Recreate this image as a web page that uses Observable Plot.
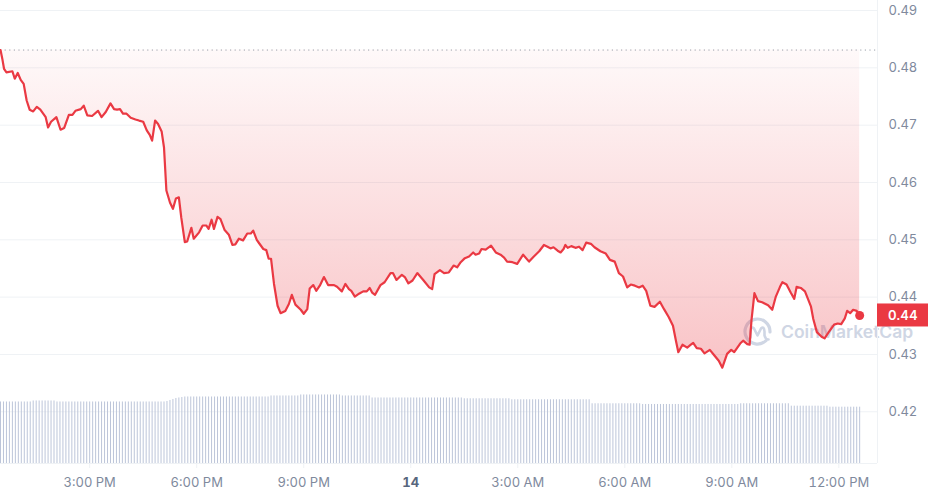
<!DOCTYPE html>
<html><head><meta charset="utf-8">
<script src="https://cdn.jsdelivr.net/npm/d3@7"></script>
<script src="https://cdn.jsdelivr.net/npm/@observablehq/plot@0.6"></script>
<style>
html,body{margin:0;padding:0;background:#fff;}
#wrap{position:relative;width:928px;height:495px;font-family:Inter,sans-serif;overflow:hidden;}
#wm{position:absolute;left:742px;top:316px;display:flex;align-items:center;gap:8px;color:#cfd6e4;font-size:17.5px;font-weight:600;z-index:0;white-space:nowrap;}
#chart{position:absolute;left:0;top:0;z-index:1;}
</style></head><body>
<div id="wrap">
  <div id="wm"><svg width="31" height="31" viewBox="-15.5 -15.5 31 31"><path d="M 8.5 9.2 A 12.5 12.5 0 1 1 12.5 0.5" fill="none" stroke="#cfd6e4" stroke-width="3.2" stroke-linecap="round"/><path d="M -7 6 L -7 0 Q -6.5 -6 -3.5 -3 L 0 4 L 3.5 -3 Q 6.5 -6 7 0 L 7 4 Q 8 8 11 8" fill="none" stroke="#cfd6e4" stroke-width="2.6" stroke-linecap="round" stroke-linejoin="round"/></svg><span>CoinMarketCap</span></div>
  <div id="chart"></div>
</div>
<script>
// Price series: minutes after 12:30 PM (13th) and price in USD
const minutes = [
  0,3,6,10,20,24,29,34,39,44,
  49,55,61,67,76,80,85,94,101,107,
  115,121,126,135,140,146,154,164,170,177,
  185,191,196,201,206,212,219,227,233,240,
  246,251,255,260,265,271,275,279,285,290,
  295,300,304,310,314,321,325,334,340,346,
  350,355,359,365,370,377,384,390,395,401,
  408,415,421,425,431,435,442,447,451,455,
  460,466,471,479,485,490,496,505,510,516,
  520,526,531,537,544,551,561,566,574,580,
  586,590,596,603,610,616,621,625,630,639,
  646,656,660,666,675,680,686,693,701,711,
  721,726,730,739,746,754,762,768,774,781,
  788,795,799,805,809,816,825,833,841,847,
  852,861,869,879,889,897,906,914,920,925,
  930,937,942,947,950,954,960,967,973,979,
  985,993,999,1009,1018,1025,1033,1040,1047,1054,
  1060,1067,1074,1080,1086,1093,1100,1109,1116,1124,
  1131,1136,1140,1147,1155,1161,1165,1171,1178,1184,
  1193,1200,1208,1214,1222,1229,1234,1244,1249,1256,
  1260,1263,1268,1274,1281,1291,1298,1304,1311,1315,
  1322,1329,1335,1339,1346,1353,1358,1363,1367,1373,
  1381,1386,1393,1402,1408,1414,1420,1424,1429,1434,
  1440,1445
];
const prices = [
  0.4831,0.4816,0.4798,0.4792,0.4794,0.4781,0.4791,0.4779,0.4772,0.4743,
  0.4727,0.4724,0.4732,0.4727,0.4714,0.4696,0.4706,0.4714,0.4692,0.4695,
  0.4718,0.4718,0.4725,0.4728,0.4734,0.4717,0.4716,0.4725,0.4714,0.4723,
  0.4738,0.4728,0.4727,0.4728,0.4720,0.4720,0.4713,0.4710,0.4708,0.4706,
  0.4691,0.4683,0.4673,0.4708,0.4702,0.4689,0.4661,0.4586,0.4565,0.4554,
  0.4572,0.4574,0.4539,0.4496,0.4497,0.4521,0.4502,0.4513,0.4525,0.4525,
  0.4519,0.4535,0.4519,0.4540,0.4536,0.4517,0.4509,0.4491,0.4492,0.4502,
  0.4499,0.4511,0.4511,0.4516,0.4500,0.4494,0.4484,0.4482,0.4467,0.4467,
  0.4423,0.4385,0.4372,0.4376,0.4388,0.4404,0.4387,0.4378,0.4371,0.4379,
  0.4415,0.4421,0.4411,0.4420,0.4435,0.4421,0.4421,0.4418,0.4410,0.4423,
  0.4414,0.4411,0.4401,0.4406,0.4410,0.4410,0.4416,0.4408,0.4404,0.4421,
  0.4426,0.4442,0.4442,0.4430,0.4439,0.4435,0.4424,0.4429,0.4442,0.4430,
  0.4417,0.4414,0.4440,0.4447,0.4442,0.4443,0.4455,0.4452,0.4461,0.4468,
  0.4471,0.4478,0.4474,0.4476,0.4484,0.4483,0.4490,0.4478,0.4474,0.4469,
  0.4462,0.4461,0.4458,0.4474,0.4462,0.4471,0.4480,0.4491,0.4488,0.4485,
  0.4487,0.4481,0.4478,0.4484,0.4491,0.4486,0.4489,0.4486,0.4488,0.4482,
  0.4495,0.4493,0.4487,0.4480,0.4476,0.4465,0.4462,0.4442,0.4436,0.4417,
  0.4422,0.4420,0.4417,0.4420,0.4411,0.4385,0.4383,0.4392,0.4379,0.4365,
  0.4350,0.4324,0.4304,0.4317,0.4312,0.4317,0.4320,0.4311,0.4310,0.4302,
  0.4308,0.4299,0.4289,0.4277,0.4301,0.4308,0.4304,0.4319,0.4324,0.4318,
  0.4317,0.4359,0.4407,0.4393,0.4391,0.4386,0.4378,0.4401,0.4418,0.4426,
  0.4422,0.4408,0.4397,0.4418,0.4416,0.4410,0.4397,0.4384,0.4362,0.4339,
  0.4331,0.4328,0.4339,0.4352,0.4354,0.4353,0.4363,0.4376,0.4372,0.4378,
  0.4376,0.4368
];
// Volume bars, one every 5 minutes (relative volume)
const volInterval = 5;
const volumes = [
  61.5,61.5,61.5,61.5,61.5,61.5,61.5,61.5,61.5,61.5,61.5,
  62.5,62.5,62.5,62.5,62.5,62.5,62.5,62.5,
  61.5,61.5,61.5,61.5,61.5,61.5,61.5,61.5,61.5,61.5,
  61.5,61.5,61.5,61.5,61.5,61.5,61.5,61.5,61.5,61.5,
  61.5,61.5,61.5,61.5,61.5,61.5,61.5,61.5,61.5,61.5,
  61.5,61.5,61.5,61.5,61.5,61.5,61.5,
  62,63,64,65,65.5,66,66.5,
  66.5,66.5,66.5,66.5,66.5,66.5,66.5,66.5,66.5,66.5,
  66.5,66.5,66.5,66.5,66.5,66.5,66.5,66.5,66.5,66.5,
  66.5,66.5,66.5,66.5,66.5,66.5,66.5,66.5,
  67.5,67.5,67.5,67.5,67.5,67.5,67.5,67.5,67.5,67.5,
  68.5,68.5,68.5,68.5,68.5,68.5,68.5,68.5,68.5,68.5,68.5,68.5,68.5,68.5,
  67.5,67.5,67.5,67.5,67.5,67.5,67.5,67.5,67.5,67.5,
  65.5,65.5,65.5,65.5,65.5,65.5,65.5,65.5,65.5,65.5,
  65.5,65.5,65.5,65.5,65.5,65.5,65.5,65.5,65.5,65.5,
  65.5,65.5,65.5,65.5,65.5,65.5,65.5,65.5,65.5,65.5,65.5,
  64.7,64.7,64.7,64.7,64.7,64.7,64.7,64.7,64.7,64.7,64.7,64.7,64.7,64.7,64.7,64.7,
  63.7,63.7,63.7,63.7,63.7,63.7,63.7,63.7,63.7,63.7,
  63.7,63.7,63.7,63.7,63.7,63.7,63.7,63.7,63.7,63.7,
  63.7,63.7,63.7,63.7,63.7,63.7,63.7,
  59.7,59.7,59.7,59.7,59.7,59.7,59.7,59.7,59.7,59.7,
  59.7,59.7,59.7,59.7,59.7,59.7,59.7,
  59,59,59,59,59,59,59,59,59,59,
  59,59,59,59,59,59,59,59,59,59,
  59,59,59,59,59,59,59,59,59,59,
  59,59,59,
  59.7,59.7,59.7,59.7,59.7,59.7,59.7,59.7,59.7,59.7,
  59.7,59.7,59.7,59.7,59.7,59.7,59.7,
  57.3,57.3,57.3,57.3,57.3,57.3,57.3,57.3,57.3,57.3,57.3,57.3,57.3,
  56.3,56.3,56.3,56.3,56.3,56.3,56.3,56.3,56.3,56.3,56.3
];
const xTickMinutes = [150, 330, 510, 690, 870, 1050, 1230, 1410];
const xTickLabels = ["3:00 PM","6:00 PM","9:00 PM","14","3:00 AM","6:00 AM","9:00 AM","12:00 PM"];
const yTickValues = [0.42, 0.43, 0.44, 0.45, 0.46, 0.47, 0.48, 0.49];

if (minutes.length !== prices.length) throw new Error("length mismatch " + minutes.length + " vs " + prices.length);

const W = 928, H = 495, mR = 51, mB = 32;
const xDomain = [0, 1475];
const yDomain = [0.41098, 0.491745];
const volToPrice = 0.01 / 57.3;
const red = "#ea3943";
const grid = "#eff2f5";

const data = minutes.map((m, i) => ({m, p: prices[i]}));
const vols = volumes.map((v, i) => ({m: i * volInterval, top: yDomain[0] + v * volToPrice}));
const baseline = prices[0];
const last = data[data.length - 1];

const plot = Plot.plot({
  width: W, height: H,
  marginTop: 0, marginBottom: mB, marginLeft: 0, marginRight: mR,
  style: {background: "transparent", fontFamily: "Inter, sans-serif", fontSize: "13px", overflow: "visible"},
  x: {domain: xDomain, label: null},
  y: {domain: yDomain, label: null},
  marks: [
    Plot.gridY(yTickValues, {stroke: grid, strokeOpacity: 1}),
    Plot.ruleY([yDomain[0]], {stroke: grid}),
    Plot.ruleX([xDomain[1]], {stroke: grid}),
    Plot.ruleX(vols, {x: "m", y1: yDomain[0], y2: "top", stroke: "#bcc5d9", strokeWidth: 1}),
    Plot.areaY(data, {x: "m", y1: baseline, y2: "p", fill: "url(#priceGrad)"}),
    Plot.ruleY([baseline], {stroke: "#9aa0aa", strokeDasharray: "1.2,3.4", strokeWidth: 1}),
    Plot.lineY(data, {x: "m", y: "p", stroke: red, strokeWidth: 2.2, strokeLinejoin: "round"}),
    Plot.dot([last], {x: "m", y: "p", r: 4.5, fill: red}),
    Plot.axisY(yTickValues, {anchor: "right", label: null, tickSize: 0, tickPadding: 11, tickFormat: d => d.toFixed(2), fill: "#808a9d", fontSize: 13}),
    Plot.axisX(xTickMinutes, {anchor: "bottom", label: null, tickSize: 5, tickPadding: 9, stroke: grid,
      tickFormat: d => xTickLabels[xTickMinutes.indexOf(d)], fill: "#808a9d", fontSize: 13})
  ]
});

document.getElementById("chart").appendChild(plot);
const svg = d3.select(plot);
const defs = svg.insert("defs", ":first-child");
const lg = defs.append("linearGradient").attr("id", "priceGrad")
  .attr("x1", 0).attr("x2", 0).attr("y1", 0).attr("y2", 1);
lg.append("stop").attr("offset", "0%").attr("stop-color", red).attr("stop-opacity", 0.03);
lg.append("stop").attr("offset", "100%").attr("stop-color", red).attr("stop-opacity", 0.3);

// bold day label
svg.selectAll("text").filter(function() { return this.textContent === "14"; })
  .attr("font-weight", 700).attr("fill", "#58667e");

// current price tag
const yy = plot.scale("y").apply(last.p);
const xr = W - mR;
svg.append("rect").attr("x", xr).attr("y", yy - 11.5).attr("width", mR).attr("height", 23).attr("fill", red);
svg.append("text").attr("x", xr + 11).attr("y", yy).attr("dy", "0.35em")
  .attr("text-anchor", "start")
  .attr("fill", "#fff").attr("font-size", 13).attr("font-weight", 600)
  .attr("font-family", "Inter, sans-serif").text(d3.format(".2f")(last.p));
</script>
</body></html>
